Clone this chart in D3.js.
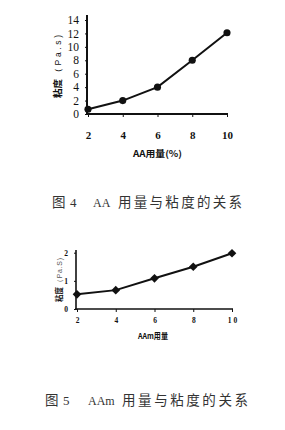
<!DOCTYPE html>
<html>
<head>
<meta charset="utf-8">
<script src="https://cdn.jsdelivr.net/npm/d3@7"></script>
<style>
  body { margin: 0; background: #fff; }
  .axis path, .axis line { stroke: #111; }
  .cjk-bold { font-family: "Noto Sans CJK SC", sans-serif; font-weight: bold; fill: #111; }
  .caption { font-family: "Noto Sans CJK SC", serif; font-weight: normal; fill: #333; }
</style>
</head>
<body>
<div id="chart"></div>
<script>
// shared x values (用量 %)
const doses = [2, 4, 6, 8, 10];
// Fig.4: AA dose vs viscosity (Pa.s)
const aaViscosity = [0.7, 2, 4, 8, 12.1];
const aaYTicks = [0, 2, 4, 6, 8, 10, 12, 14];
// Fig.5: AAm dose vs viscosity (Pa.S)
const aamViscosity = [0.52, 0.67, 1.09, 1.5, 1.98];
const aamYTicks = [0, 1, 2];

const svg = d3.select('#chart').append('svg')
  .attr('width', 285)
  .attr('height', 430);

function styleTicks(sel, size, weight) {
  sel.selectAll('.tick text')
    .style('font-family', '"Liberation Serif", "Times New Roman", serif')
    .style('font-size', size + 'px')
    .style('font-weight', weight)
    .style('fill', '#111');
}

function drawChart(opts) {
  const x = d3.scaleLinear().domain([2, 10]).range(opts.xRange);
  const y = d3.scaleLinear().domain(opts.yDomain).range(opts.yRange);
  const g = svg.append('g');

  // x axis
  const xAxis = g.append('g')
    .attr('class', 'axis')
    .attr('transform', `translate(0, ${y(0)})`)
    .call(d3.axisBottom(x).tickValues(doses).tickSize(3).tickSizeOuter(0)
      .tickPadding(opts.xPad).tickFormat(d => opts.xLabel ? opts.xLabel(d) : d));
  xAxis.select('.domain').attr('stroke-width', opts.axisWidth)
    .attr('d', `M${opts.xRange[0] - 2},0H${opts.xRange[1] + 1}`);
  styleTicks(xAxis, opts.tickFont, 'bold');

  // y axis
  const yAxis = g.append('g')
    .attr('class', 'axis')
    .attr('transform', `translate(${opts.yAxisX}, 0)`)
    .call(d3.axisLeft(y).tickValues(opts.yTicks).tickSize(2).tickSizeOuter(0)
      .tickPadding(opts.yPad).tickFormat(d3.format('d')));
  yAxis.select('.domain').attr('stroke-width', opts.axisWidth)
    .attr('d', `M0,${opts.yTop}V${y(0) + 1}`);
  styleTicks(yAxis, opts.yTickFont, opts.yTickWeight);

  // line + markers
  const pts = doses.map((d, i) => [d, opts.values[i]]);
  g.append('path')
    .datum(pts)
    .attr('fill', 'none')
    .attr('stroke', '#111')
    .attr('stroke-width', 2)
    .attr('d', d3.line().x(d => x(d[0])).y(d => y(d[1])));
  g.selectAll('.mark')
    .data(pts)
    .enter()
    .append('path')
    .attr('class', 'mark')
    .attr('transform', d => `translate(${x(d[0])}, ${y(d[1])})`)
    .attr('d', d3.symbol().type(opts.symbol).size(opts.symbolSize))
    .attr('fill', '#111');

  // axis titles
  g.append('text')
    .attr('class', 'cjk-bold')
    .attr('x', opts.xTitle.x)
    .attr('y', opts.xTitle.y)
    .attr('font-size', opts.xTitle.size)
    .attr('textLength', opts.xTitle.len)
    .attr('lengthAdjust', 'spacingAndGlyphs')
    .text(opts.xTitle.text);

  const yt = opts.yTitle;
  const ytg = g.append('g')
    .attr('transform', `translate(${yt.x}, ${yt.bottom}) rotate(-90)`);
  ytg.append('text')
    .attr('class', 'cjk-bold')
    .attr('font-size', yt.size)
    .text('粘度');
  ytg.append('text')
    .attr('x', yt.unitStart)
    .style('font-family', '"Liberation Sans", sans-serif')
    .style('font-size', yt.unitSize + 'px')
    .style('fill', yt.unitColor)
    .attr('textLength', yt.unitLen)
    .attr('lengthAdjust', 'spacing')
    .text(yt.unit);

  // caption
  const cap = opts.caption;
  svg.append('text').attr('class', 'caption')
    .attr('x', cap.x).attr('y', cap.y).attr('font-size', 13.5)
    .text('图');
  svg.append('text').attr('class', 'caption')
    .attr('x', cap.x + 18).attr('y', cap.y).attr('font-size', 13)
    .style('font-family', '"Liberation Serif", serif')
    .text(cap.num);
  svg.append('text').attr('class', 'caption')
    .attr('x', cap.abbrX).attr('y', cap.y).attr('font-size', 12)
    .style('font-family', '"Liberation Serif", serif')
    .text(cap.abbr);
  svg.append('text').attr('class', 'caption')
    .attr('x', cap.restX).attr('y', cap.y).attr('font-size', 13.5)
    .attr('textLength', cap.restLen).attr('lengthAdjust', 'spacing')
    .text('用量与粘度的关系');
}

drawChart({
  values: aaViscosity,
  yDomain: [0, 14],
  yTicks: aaYTicks,
  xRange: [88, 227],
  yRange: [114, 20],
  yAxisX: 87,
  yTop: 15,
  axisWidth: 2,
  xPad: 14,
  yPad: 6,
  tickFont: 11,
  yTickFont: 11.5,
  yTickWeight: 'normal',
  symbol: d3.symbolCircle,
  symbolSize: 40,
  xTitle: { text: 'AA用量(%)', x: 133, y: 157, size: 9, len: 49 },
  yTitle: { x: 61, bottom: 98, size: 9.5, unit: '（Pa.s)', unitStart: 21, unitSize: 8.5, unitLen: 42, unitColor: '#111' },
  caption: { num: '4', x: 52, y: 207, abbr: 'AA', abbrX: 93, restX: 118, restLen: 124 }
});

drawChart({
  values: aamViscosity,
  yDomain: [0, 2],
  yTicks: aamYTicks,
  xRange: [77, 232],
  yRange: [309, 252.7],
  yAxisX: 76,
  yTop: 250,
  axisWidth: 1.6,
  xPad: 6,
  yPad: 6,
  tickFont: 7.5,
  yTickFont: 7.5,
  yTickWeight: 'bold',
  xLabel: d => d === 10 ? '1 0' : d,
  symbol: d3.symbolDiamond2,
  symbolSize: 48,
  xTitle: { text: 'AAm用量', x: 138, y: 339, size: 8, len: 30 },
  yTitle: { x: 62, bottom: 302, size: 7.5, unit: '（Pa.S)', unitStart: 16, unitSize: 7, unitLen: 28, unitColor: '#555' },
  caption: { num: '5', x: 45, y: 405, abbr: 'AAm', abbrX: 88, restX: 122, restLen: 126 }
});
</script>
</body>
</html>
